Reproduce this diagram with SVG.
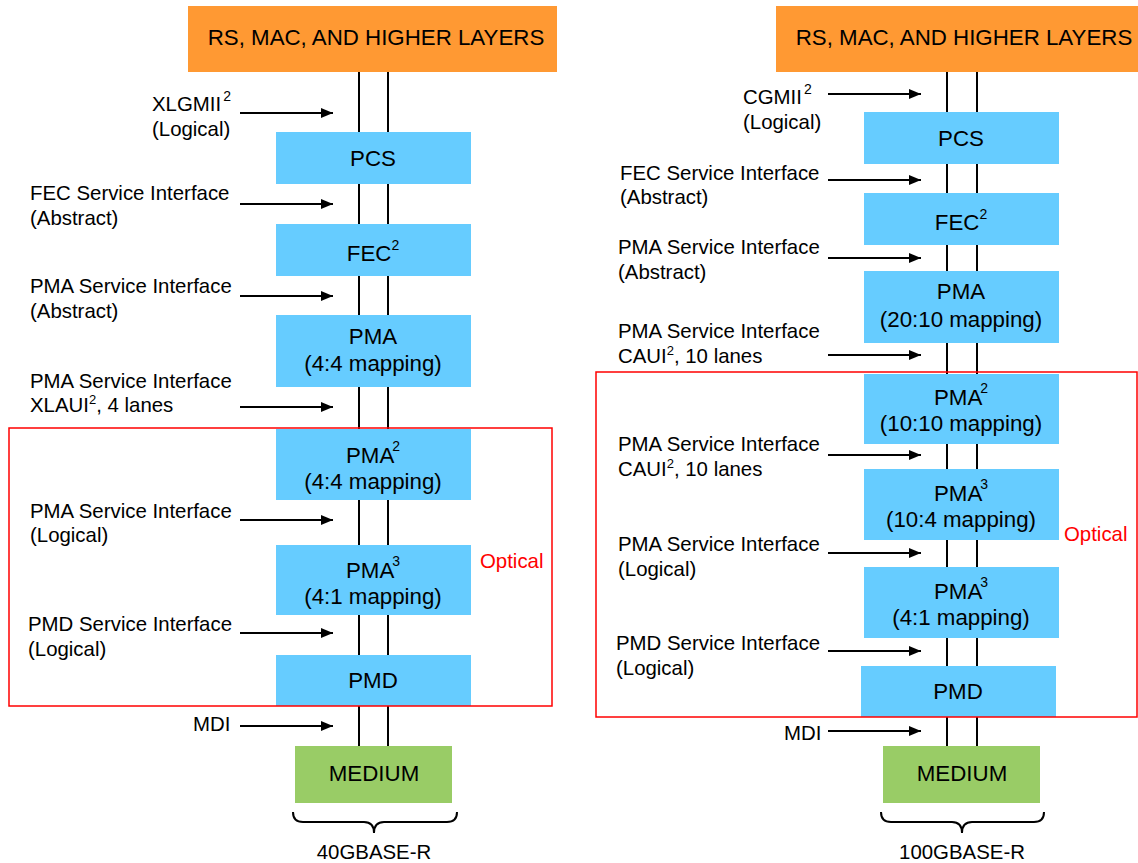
<svg xmlns="http://www.w3.org/2000/svg" width="1138" height="863" viewBox="0 0 1138 863">
<style>
.lbl{font-family:"Liberation Sans",Arial,sans-serif;font-size:20.4px;fill:#000}
.box{font-family:"Liberation Sans",Arial,sans-serif;font-size:22.3px;fill:#000;text-anchor:middle}
.sup{font-size:14px}
.sup2{font-size:13px}
.blue{fill:#66CCFF}
.org{fill:#FF9933}
.grn{fill:#99CC66}
.vl{stroke:#000;stroke-width:2}
.arr{stroke:#000;stroke-width:2;marker-end:url(#ah)}
.red{fill:none;stroke:#FF0000;stroke-width:1.5}
.opt{font-family:"Liberation Sans",Arial,sans-serif;font-size:20.4px;fill:#FF0000}
.brace{fill:none;stroke:#000;stroke-width:2}
</style>
<defs>
<marker id="ah" markerWidth="12" markerHeight="10" refX="12" refY="5" orient="auto" markerUnits="userSpaceOnUse">
<path d="M0,0 L12,5 L0,10 Z" fill="#000"/>
</marker>
</defs>
<rect width="1138" height="863" fill="#fff"/>

<g id="connectors">
<line class="vl" x1="359" y1="72" x2="359" y2="746"/>
<line class="vl" x1="388" y1="72" x2="388" y2="746"/>
<line class="vl" x1="947" y1="72" x2="947" y2="746"/>
<line class="vl" x1="977" y1="72" x2="977" y2="746"/>
<line class="arr" x1="240" y1="113" x2="333" y2="113"/>
<line class="arr" x1="240" y1="204" x2="333" y2="204"/>
<line class="arr" x1="240" y1="296" x2="333" y2="296"/>
<line class="arr" x1="240" y1="407" x2="333" y2="407"/>
<line class="arr" x1="240" y1="520" x2="333" y2="520"/>
<line class="arr" x1="240" y1="633" x2="333" y2="633"/>
<line class="arr" x1="240" y1="726" x2="333" y2="726"/>
<line class="arr" x1="828" y1="94" x2="921" y2="94"/>
<line class="arr" x1="828" y1="180" x2="921" y2="180"/>
<line class="arr" x1="828" y1="258" x2="921" y2="258"/>
<line class="arr" x1="828" y1="355" x2="921" y2="355"/>
<line class="arr" x1="828" y1="455" x2="921" y2="455"/>
<line class="arr" x1="828" y1="553" x2="921" y2="553"/>
<line class="arr" x1="828" y1="651" x2="921" y2="651"/>
<line class="arr" x1="828" y1="731" x2="921" y2="731"/>
</g>

<!-- Left stack -->
<g id="L-top"><rect class="org" x="188" y="6" width="369" height="66"/><text class="box" x="376" y="45">RS, MAC, AND HIGHER LAYERS</text></g>
<g id="L-pcs"><rect class="blue" x="276" y="132" width="195" height="52"/><text class="box" x="373" y="166">PCS</text></g>
<g id="L-fec"><rect class="blue" x="276" y="224" width="195" height="52"/><text class="box" x="373" y="261">FEC<tspan class="sup" dy="-11">2</tspan></text></g>
<g id="L-pma1"><rect class="blue" x="276" y="315" width="195" height="72"/><text class="box" x="373" y="344">PMA</text><text class="box" x="373" y="371">(4:4 mapping)</text></g>
<g id="L-pma2"><rect class="blue" x="276" y="429" width="195" height="71"/><text class="box" x="373" y="463"><tspan>PMA</tspan><tspan class="sup" dx="-2" dy="-12">2</tspan></text><text class="box" x="373" y="489">(4:4 mapping)</text></g>
<g id="L-pma3"><rect class="blue" x="276" y="545" width="195" height="70"/><text class="box" x="373" y="578"><tspan>PMA</tspan><tspan class="sup" dx="-2" dy="-12">3</tspan></text><text class="box" x="373" y="604">(4:1 mapping)</text></g>
<g id="L-pmd"><rect class="blue" x="276" y="655" width="195" height="51"/><text class="box" x="373" y="688">PMD</text></g>
<g id="L-medium"><rect class="grn" x="295" y="746" width="157" height="57"/><text class="box" x="374" y="781">MEDIUM</text></g>
<g id="L-optical"><rect class="red" x="9" y="428" width="543" height="278"/><text class="opt" x="480" y="568">Optical</text></g>
<g id="L-brace"><path class="brace" d="M293,812 Q293,822 303,822 L364,822 Q374,822 374,833 Q374,822 384,822 L447,822 Q457,822 457,812"/><text class="lbl" x="374" y="859" text-anchor="middle">40GBASE-R</text></g>

<g id="L-labels">
<text class="lbl" x="152" y="111">XLGMII<tspan class="sup" dx="2" dy="-10">2</tspan></text>
<text class="lbl" x="152" y="136">(Logical)</text>
<text class="lbl" x="30" y="200">FEC Service Interface</text>
<text class="lbl" x="30" y="225">(Abstract)</text>
<text class="lbl" x="30" y="293">PMA Service Interface</text>
<text class="lbl" x="30" y="318">(Abstract)</text>
<text class="lbl" x="30" y="388">PMA Service Interface</text>
<text class="lbl" x="30" y="412">XLAUI<tspan class="sup2" dy="-8">2</tspan><tspan dy="8">, 4 lanes</tspan></text>
<text class="lbl" x="30" y="518">PMA Service Interface</text>
<text class="lbl" x="30" y="542">(Logical)</text>
<text class="lbl" x="28" y="631">PMD Service Interface</text>
<text class="lbl" x="28" y="656">(Logical)</text>
<text class="lbl" x="193" y="731">MDI</text>
</g>

<!-- Right stack -->
<g id="R-top"><rect class="org" x="776" y="6" width="362" height="66"/><text class="box" x="964" y="45">RS, MAC, AND HIGHER LAYERS</text></g>
<g id="R-pcs"><rect class="blue" x="864" y="112" width="195" height="52"/><text class="box" x="961" y="146">PCS</text></g>
<g id="R-fec"><rect class="blue" x="864" y="193" width="195" height="52"/><text class="box" x="961" y="230">FEC<tspan class="sup" dy="-11">2</tspan></text></g>
<g id="R-pma1"><rect class="blue" x="864" y="271" width="195" height="72"/><text class="box" x="961" y="299">PMA</text><text class="box" x="961" y="327">(20:10 mapping)</text></g>
<g id="R-pma2"><rect class="blue" x="864" y="374" width="195" height="70"/><text class="box" x="961" y="405"><tspan>PMA</tspan><tspan class="sup" dx="-2" dy="-12">2</tspan></text><text class="box" x="961" y="431">(10:10 mapping)</text></g>
<g id="R-pma3a"><rect class="blue" x="864" y="469" width="195" height="71"/><text class="box" x="961" y="501"><tspan>PMA</tspan><tspan class="sup" dx="-2" dy="-12">3</tspan></text><text class="box" x="961" y="527">(10:4 mapping)</text></g>
<g id="R-pma3b"><rect class="blue" x="864" y="567" width="195" height="71"/><text class="box" x="961" y="599"><tspan>PMA</tspan><tspan class="sup" dx="-2" dy="-12">3</tspan></text><text class="box" x="961" y="625">(4:1 mapping)</text></g>
<g id="R-pmd"><rect class="blue" x="861" y="666" width="195" height="51"/><text class="box" x="958" y="699">PMD</text></g>
<g id="R-medium"><rect class="grn" x="883" y="746" width="157" height="57"/><text class="box" x="962" y="781">MEDIUM</text></g>
<g id="R-optical"><rect class="red" x="596" y="372" width="541" height="345"/><text class="opt" x="1064" y="541">Optical</text></g>
<g id="R-brace"><path class="brace" d="M881,812 Q881,822 891,822 L952,822 Q962,822 962,833 Q962,822 972,822 L1034,822 Q1044,822 1044,812"/><text class="lbl" x="962" y="859" text-anchor="middle">100GBASE-R</text></g>

<g id="R-labels">
<text class="lbl" x="743" y="104">CGMII<tspan class="sup" dx="2" dy="-10">2</tspan></text>
<text class="lbl" x="743" y="129">(Logical)</text>
<text class="lbl" x="620" y="180">FEC Service Interface</text>
<text class="lbl" x="620" y="204">(Abstract)</text>
<text class="lbl" x="618" y="254">PMA Service Interface</text>
<text class="lbl" x="618" y="279">(Abstract)</text>
<text class="lbl" x="618" y="338">PMA Service Interface</text>
<text class="lbl" x="618" y="363">CAUI<tspan class="sup2" dy="-8">2</tspan><tspan dy="8">, 10 lanes</tspan></text>
<text class="lbl" x="618" y="451">PMA Service Interface</text>
<text class="lbl" x="618" y="476">CAUI<tspan class="sup2" dy="-8">2</tspan><tspan dy="8">, 10 lanes</tspan></text>
<text class="lbl" x="618" y="551">PMA Service Interface</text>
<text class="lbl" x="618" y="576">(Logical)</text>
<text class="lbl" x="616" y="650">PMD Service Interface</text>
<text class="lbl" x="616" y="675">(Logical)</text>
<text class="lbl" x="784" y="740">MDI</text>
</g>
</svg>
